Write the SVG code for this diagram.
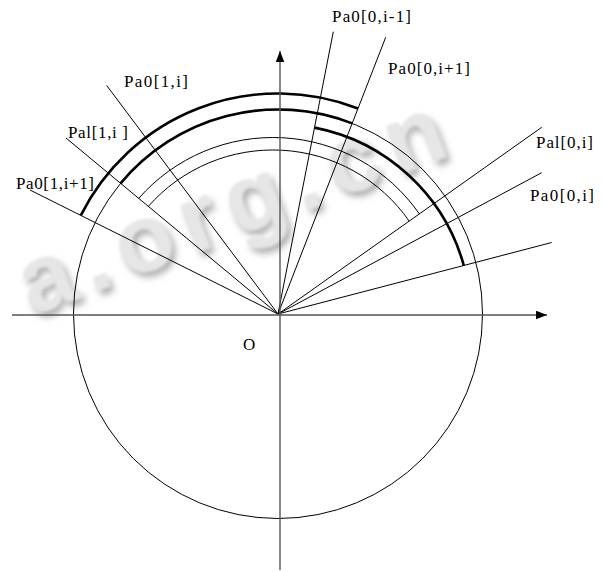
<svg xmlns="http://www.w3.org/2000/svg" width="604" height="571" viewBox="0 0 604 571">
<style>
  .axis { stroke: #555; stroke-width: 1.4; fill: none; }
  .thin { stroke: #000; stroke-width: 1; fill: none; }
  .thick { stroke: #000; stroke-width: 2.6; fill: none; }
  .lbl { font-family: "Liberation Serif", "Times New Roman", serif; font-size: 17px; fill: #000; }
  .wm { font-family: "Liberation Sans", Arial, sans-serif; font-weight: bold; font-size: 95px; fill: #e6e6e6; }
</style>
<defs>
  <marker id="arrow" markerUnits="userSpaceOnUse" markerWidth="12" markerHeight="10" refX="11" refY="4.3" orient="auto">
    <path d="M0,0 L11,4.3 L0,8.6 z" fill="#000"/>
  </marker>
  <filter id="emboss" x="-10%" y="-30%" width="130%" height="170%">
    <feGaussianBlur in="SourceAlpha" stdDeviation="3.5" result="b"/>
    <feOffset in="b" dx="4" dy="5" result="o"/>
    <feFlood flood-color="#888" flood-opacity="0.7"/>
    <feComposite in2="o" operator="in" result="sh"/>
    <feGaussianBlur in="SourceGraphic" stdDeviation="1.6" result="s"/>
    <feMerge><feMergeNode in="sh"/><feMergeNode in="s"/></feMerge>
  </filter>
</defs>

<g id="watermark" filter="url(#emboss)">
  <text class="wm" x="0" y="0" transform="translate(32,316) rotate(-21)" textLength="450" lengthAdjust="spacing">a.org.cn</text>
</g>

<g id="circle">
  <circle class="thin" cx="278" cy="314" r="204.5"/>
</g>

<g id="arcs">
  <path id="arc-outer" class="thick" d="M80.8,215.4 A220.5,220.5 0 0 1 358,108.5"/>
  <path id="arc-circle" class="thick" d="M120.6,183.4 A204.5,204.5 0 0 1 352.2,123.4"/>
  <path id="arc-right" class="thick" d="M314.5,127.6 A193,193 0 0 1 463.8,265.5"/>
  <path id="arc-thin1" class="thin" d="M138.7,198.4 A178.5,178.5 0 0 1 419.4,213.9"/>
  <path id="arc-thin2" class="thin" d="M148.3,206.4 A166,166 0 0 1 409.2,221.1"/>
</g>

<g id="connectors">
  <line class="thin" x1="278" y1="314" x2="30" y2="190"/>
  <line class="thin" x1="278" y1="314" x2="66" y2="138"/>
  <line class="thin" x1="278" y1="314" x2="106.7" y2="85.5"/>
  <line class="thin" x1="278" y1="314" x2="333.3" y2="31.7"/>
  <line class="thin" x1="278" y1="314" x2="385.7" y2="37.3"/>
  <line class="thin" x1="278" y1="314" x2="541.7" y2="127.3"/>
  <line class="thin" x1="278" y1="314" x2="541.7" y2="172.7"/>
  <line class="thin" x1="278" y1="314" x2="551.7" y2="242.5"/>
  <line class="axis" x1="12" y1="315" x2="547" y2="315" marker-end="url(#arrow)"/>
  <line class="axis" x1="280" y1="570" x2="280" y2="51" marker-end="url(#arrow)"/>
</g>

<g id="labels">
  <text class="lbl" x="332" y="22" textLength="79" lengthAdjust="spacing">Pa0[0,i-1]</text>
  <text class="lbl" x="388" y="74" textLength="82" lengthAdjust="spacing">Pa0[0,i+1]</text>
  <text class="lbl" x="536" y="148" textLength="57" lengthAdjust="spacing">Pal[0,i]</text>
  <text class="lbl" x="530" y="201" textLength="64" lengthAdjust="spacing">Pa0[0,i]</text>
  <text class="lbl" x="124" y="87" textLength="64" lengthAdjust="spacing">Pa0[1,i]</text>
  <text class="lbl" x="68" y="138" textLength="60" lengthAdjust="spacing">Pal[1,i ]</text>
  <text class="lbl" x="16" y="189" textLength="78" lengthAdjust="spacing">Pa0[1,i+1]</text>
  <text class="lbl" x="243" y="350">O</text>
</g>
</svg>
